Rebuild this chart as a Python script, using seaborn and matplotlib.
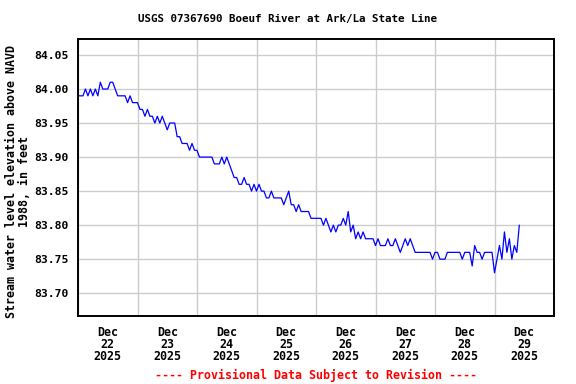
import numpy as np
import pandas as pd
import seaborn as sns
import matplotlib
matplotlib.use("Agg")
import matplotlib.pyplot as plt
import matplotlib.dates as mdates
from matplotlib.ticker import FixedLocator, FormatStrFormatter, NullFormatter

# Hourly gage height (ft above NAVD 1988), starting Dec 22 2025 00:00
day_22 = [83.99, 83.99, 83.99, 84.00, 83.99, 84.00, 83.99, 84.00, 83.99, 84.01, 84.00, 84.00,
          84.00, 84.01, 84.01, 84.00, 83.99, 83.99, 83.99, 83.99, 83.98, 83.99, 83.98, 83.98]
day_23 = [83.98, 83.97, 83.97, 83.96, 83.97, 83.96, 83.96, 83.95, 83.96, 83.95, 83.96, 83.95,
          83.94, 83.95, 83.95, 83.95, 83.93, 83.93, 83.92, 83.92, 83.92, 83.91, 83.92, 83.91]
day_24 = [83.91, 83.90, 83.90, 83.90, 83.90, 83.90, 83.90, 83.89, 83.89, 83.89, 83.90, 83.89,
          83.90, 83.89, 83.88, 83.87, 83.87, 83.86, 83.86, 83.87, 83.86, 83.86, 83.85, 83.86]
day_25 = [83.85, 83.86, 83.85, 83.85, 83.84, 83.84, 83.85, 83.84, 83.84, 83.84, 83.84, 83.83,
          83.84, 83.85, 83.83, 83.83, 83.82, 83.83, 83.82, 83.82, 83.82, 83.82, 83.81, 83.81]
day_26 = [83.81, 83.81, 83.81, 83.80, 83.81, 83.80, 83.79, 83.80, 83.79, 83.80, 83.80, 83.81,
          83.80, 83.82, 83.79, 83.80, 83.78, 83.79, 83.78, 83.79, 83.78, 83.78, 83.78, 83.78]
day_27 = [83.77, 83.78, 83.77, 83.77, 83.77, 83.78, 83.77, 83.77, 83.78, 83.77, 83.76, 83.77,
          83.78, 83.77, 83.78, 83.77, 83.76, 83.76, 83.76, 83.76, 83.76, 83.76, 83.76, 83.75]
day_28 = [83.76, 83.76, 83.75, 83.75, 83.75, 83.76, 83.76, 83.76, 83.76, 83.76, 83.76, 83.75,
          83.76, 83.76, 83.76, 83.74, 83.77, 83.76, 83.76, 83.75, 83.76, 83.76, 83.76, 83.76]
day_29 = [83.73, 83.75, 83.77, 83.75, 83.79, 83.76, 83.78, 83.75, 83.77, 83.76, 83.80]

ytick_values = [83.70, 83.75, 83.80, 83.85, 83.90, 83.95, 84.00, 84.05]
title = "USGS 07367690 Boeuf River at Ark/La State Line"
ylabel = "Stream water level elevation above NAVD\n1988, in feet"
footer = "---- Provisional Data Subject to Revision ----"

values = day_22 + day_23 + day_24 + day_25 + day_26 + day_27 + day_28 + day_29
df = pd.DataFrame({
    "time": pd.date_range("2025-12-22 00:00", periods=len(values), freq="h"),
    "gage": values,
})

sns.set_style("white")
plt.rcParams["font.family"] = ["DejaVu Sans Mono", "DejaVu Sans"]
plt.rcParams["font.weight"] = "bold"

fig = plt.figure(figsize=(5.76, 3.84), dpi=100)
ax = fig.add_axes([78 / 576, 68 / 384, 476 / 576, 277 / 384])

sns.lineplot(data=df, x="time", y="gage", ax=ax, color="#0000ff", linewidth=0.9)

ax.set_xlim(pd.Timestamp("2025-12-22"), pd.Timestamp("2025-12-30"))
ax.set_ylim(83.6665, 84.0735)

ax.yaxis.set_major_locator(FixedLocator(ytick_values))
ax.yaxis.set_major_formatter(FormatStrFormatter("%.2f"))
ax.xaxis.set_major_locator(mdates.DayLocator())
ax.xaxis.set_major_formatter(NullFormatter())
ax.xaxis.set_minor_locator(mdates.HourLocator(byhour=[12]))
ax.xaxis.set_minor_formatter(mdates.DateFormatter("%b\n%d\n%Y"))

ax.grid(True, which="major", color="#cccccc", linewidth=1.0)
ax.tick_params(axis="both", which="both", length=0)
ax.tick_params(axis="y", labelsize=8.2, pad=7, labelcolor="black")
ax.tick_params(axis="x", which="minor", labelsize=8.4, pad=7, labelcolor="black")
for lbl in ax.get_xticklabels(minor=True):
    lbl.set_linespacing(0.93)
    lbl.set_fontweight("bold")
for lbl in ax.get_yticklabels():
    lbl.set_fontweight("bold")

for spine in ax.spines.values():
    spine.set_color("black")
    spine.set_linewidth(1.4)

ax.set_xlabel("")
ax.set_ylabel("")

fig.text(0.5, 1 - 19 / 384, title, ha="center", va="center", fontsize=7.8,
         fontweight="bold", color="black")
fig.text(18 / 576, 1 - 181 / 384, ylabel, ha="center", va="center", rotation=90,
         fontsize=8.4, fontweight="bold", linespacing=0.95, color="black")
fig.text(316 / 576, 1 - 375 / 384, footer, ha="center", va="center", fontsize=8.4,
         fontweight="bold", color="red")

fig.savefig("out.png", dpi=100)
